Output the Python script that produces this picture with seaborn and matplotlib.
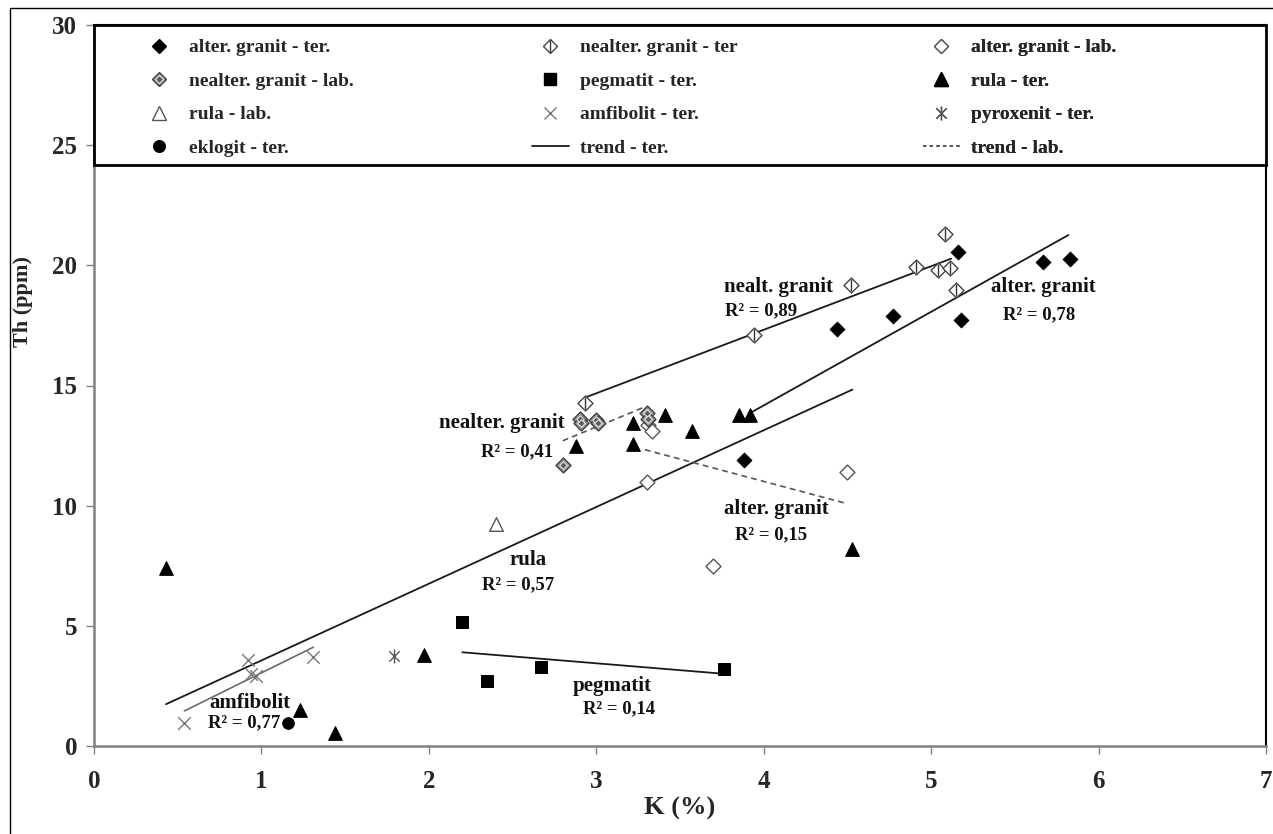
import numpy as np
import pandas as pd
import matplotlib
matplotlib.use("Agg")
import matplotlib.pyplot as plt
import seaborn as sns
from matplotlib.lines import Line2D
from matplotlib.legend_handler import HandlerTuple
from matplotlib.patches import Rectangle
from matplotlib.path import Path

# ---------------- data (K %, Th ppm) ----------------
alt_gr_ter_k = [3.88, 4.44, 4.77, 5.16, 5.18, 5.67, 5.83]
alt_gr_ter_th = [11.92, 17.36, 17.90, 20.57, 17.72, 20.15, 20.28]

nealt_gr_ter_k = [2.93, 3.94, 4.52, 4.91, 5.04, 5.08, 5.11, 5.15]
nealt_gr_ter_th = [14.29, 17.10, 19.18, 19.93, 19.80, 21.29, 19.90, 18.97]

alt_gr_lab_k = [3.31, 3.33, 3.30, 4.50, 3.70]
alt_gr_lab_th = [13.37, 13.10, 11.00, 11.42, 7.50]

nealt_gr_lab_k = [2.80, 2.90, 2.91, 3.00, 3.01, 3.30, 3.31]
nealt_gr_lab_th = [11.68, 13.60, 13.42, 13.58, 13.45, 13.86, 13.62]

pegm_ter_k = [2.20, 2.35, 2.67, 3.76]
pegm_ter_th = [5.17, 2.70, 3.30, 3.20]

rula_ter_k = [0.43, 1.23, 1.44, 1.97, 2.88, 3.22, 3.22, 3.41, 3.57, 3.85, 3.92, 4.53]
rula_ter_th = [7.40, 1.50, 0.55, 3.78, 12.47, 13.44, 12.58, 13.79, 13.10, 13.79, 13.79, 8.21]

rula_lab_k = [2.40]
rula_lab_th = [9.25]

amf_ter_k = [0.54, 0.92, 0.94, 0.97, 1.31]
amf_ter_th = [0.97, 3.58, 3.00, 2.92, 3.72]

pyrox_ter_k = [1.79]
pyrox_ter_th = [3.75]

eklog_ter_k = [1.16]
eklog_ter_th = [0.97]

# trend lines: start/end K and Th
trend_names = ["nealt. granit", "alter. granit", "rula", "amfibolit", "pegmatit",
               "nealter. granit", "alter. granit lab"]
trend_k0 = [2.93, 3.92, 0.43, 0.54, 2.20, 2.80, 3.29]
trend_k1 = [5.12, 5.82, 4.53, 1.31, 3.77, 3.29, 4.50]
trend_th0 = [14.49, 13.86, 1.74, 1.46, 3.90, 12.70, 12.33]
trend_th1 = [20.28, 21.26, 14.83, 4.11, 3.00, 14.11, 10.08]
trend_kind = ["ter", "ter", "ter", "amf", "ter", "lab", "lab"]

# annotations
ann_names = ["nealt. granit", "alter. granit", "nealter. granit", "alter. granit",
             "rula", "amfibolit", "pegmatit"]
ann_r2 = ["R² = 0,89", "R² = 0,78", "R² = 0,41", "R² = 0,15",
          "R² = 0,57", "R² = 0,77", "R² = 0,14"]
ann_name_xy = [(3.76, 19.1), (5.36, 19.08), (2.06, 13.46), (3.76, 9.88),
               (2.48, 7.75), (0.69, 1.79), (2.86, 2.5)]
ann_r2_xy = [(3.77, 18.1), (5.43, 17.96), (2.31, 12.25), (3.83, 8.8),
             (2.32, 6.71), (0.68, 0.96), (2.92, 1.54)]

x_ticks = [0, 1, 2, 3, 4, 5, 6, 7]
y_ticks = [0, 5, 10, 15, 20, 25, 30]

# ---------------- style ----------------
sns.set_theme(style="white")
plt.rcParams["font.family"] = ["Liberation Serif", "DejaVu Serif"]
plt.rcParams["font.weight"] = "bold"

W, H = 1273, 834
fig = plt.figure(figsize=(W / 100, H / 100), dpi=100)
fig.patch.set_facecolor("white")
ax = fig.add_axes([94 / W, 1 - 746 / H, (1266 - 94) / W, (746 - 25) / H])

# outer frame of the figure
fig.patches.append(Rectangle((10 / W, -0.01), 1.05, 1 - 8 / H + 0.01,
                             transform=fig.transFigure, fill=False,
                             edgecolor="black", linewidth=1.0, zorder=0))

MS_D = 7.6
# x with a vertical stroke (pyroxenit marker)
PYR = Path([(0, -1), (0, 1), (-0.75, -0.75), (0.75, 0.75), (-0.75, 0.75), (0.75, -0.75)],
           [Path.MOVETO, Path.LINETO, Path.MOVETO, Path.LINETO, Path.MOVETO, Path.LINETO])

def scat(k, th, **kw):
    df = pd.DataFrame({"K": k, "Th": th})
    sns.scatterplot(data=df, x="K", y="Th", ax=ax, legend=False, **kw)

# trend lines
for k0, k1, t0, t1, kind in zip(trend_k0, trend_k1, trend_th0, trend_th1, trend_kind):
    if kind == "ter":
        ax.plot([k0, k1], [t0, t1], color="#1a1a1a", lw=1.3, zorder=2)
    elif kind == "amf":
        ax.plot([k0, k1], [t0, t1], color="#6a6a6a", lw=1.2, zorder=2)
    else:
        ax.plot([k0, k1], [t0, t1], color="#555555", lw=1.2, ls=(0, (3.5, 2.5)), zorder=2)

# scatter groups
scat(alt_gr_ter_k, alt_gr_ter_th, marker="D", s=MS_D**2, color="black", edgecolor="black", zorder=4)
scat(nealt_gr_ter_k, nealt_gr_ter_th, marker="D", s=MS_D**2, color="white", edgecolor="#444444", linewidth=1.0, zorder=4)
ax.scatter(nealt_gr_ter_k, nealt_gr_ter_th, marker="|", s=8**2, color="#333333", linewidths=1.0, zorder=5)
scat(alt_gr_lab_k, alt_gr_lab_th, marker="D", s=MS_D**2, color="white", edgecolor="#555555", linewidth=1.0, zorder=4)
scat(nealt_gr_lab_k, nealt_gr_lab_th, marker="D", s=MS_D**2, color="#9a9a9a", edgecolor="#404040", linewidth=1.0, zorder=4)
scat(nealt_gr_lab_k, nealt_gr_lab_th, marker="D", s=3.8**2, color="#5a5a5a", edgecolor="#e0e0e0", linewidth=0.8, zorder=5)
scat(pegm_ter_k, pegm_ter_th, marker="s", s=9**2, color="black", edgecolor="black", zorder=4)
scat(rula_ter_k, rula_ter_th, marker="^", s=9.8**2, color="black", edgecolor="black", zorder=4)
scat(rula_lab_k, rula_lab_th, marker="^", s=9.8**2, color="white", edgecolor="#555555", linewidth=1.0, zorder=4)
ax.scatter(amf_ter_k, amf_ter_th, marker="x", s=9**2, color="#777777", linewidths=1.0, zorder=4)
ax.scatter(pyrox_ter_k, pyrox_ter_th, marker=PYR, s=10**2, color="#555555", linewidths=1.0, zorder=4)
scat(eklog_ter_k, eklog_ter_th, marker="o", s=8.4**2, color="black", edgecolor="black", zorder=4)

# annotations
for name, r2, (nx, ny), (rx, ry) in zip(ann_names, ann_r2, ann_name_xy, ann_r2_xy):
    ax.text(nx, ny, name, fontsize=15, fontweight="bold", ha="left", va="center",
            color="#111111", zorder=6)
    ax.text(rx, ry, r2, fontsize=13.5, fontweight="bold", ha="left", va="center",
            color="#111111", zorder=6)

# axes
ax.set_xlim(0, 7)
ax.set_ylim(0, 30)
ax.set_xticks(x_ticks)
ax.set_yticks(y_ticks)
ax.set_xticklabels([str(v) for v in x_ticks], fontsize=18, fontweight="bold")
ax.set_yticklabels([str(v) for v in y_ticks], fontsize=18, fontweight="bold")
ax.tick_params(axis="both", direction="out", length=6, width=1.0, color="#808080",
               bottom=True, left=True)
ax.tick_params(axis="x", pad=11)
ax.tick_params(axis="y", pad=6)
for side in ["left", "bottom"]:
    ax.spines[side].set_color("#808080")
    ax.spines[side].set_linewidth(1.8)
for side in ["top", "right"]:
    ax.spines[side].set_color("black")
    ax.spines[side].set_linewidth(1.5)
ax.grid(False)

ax.set_xlabel("K (%)", fontsize=19, fontweight="bold")
ax.set_ylabel("Th (ppm)", fontsize=16, fontweight="bold")
ax.xaxis.set_label_coords(0.5, -0.07)
ax.yaxis.set_label_coords(-0.052, 0.616)

# legend
def mk(marker, ms, fc, ec, mew=1.0):
    return Line2D([], [], ls="none", marker=marker, markersize=ms,
                  markerfacecolor=fc, markeredgecolor=ec, markeredgewidth=mew)

h_alt_ter = mk("D", MS_D, "black", "black")
h_nealt_ter = (mk("D", MS_D, "white", "#444444"), mk("|", 8, "#333333", "#333333"))
h_alt_lab = mk("D", MS_D, "white", "#555555")
h_nealt_lab = (mk("D", MS_D, "#9a9a9a", "#404040"), mk("D", 3.8, "#5a5a5a", "#e0e0e0", 0.8))
h_pegm = mk("s", 9, "black", "black")
h_rula_ter = mk("^", 9.8, "black", "black")
h_rula_lab = mk("^", 9.8, "white", "#555555")
h_amf = mk("x", 9, "#777777", "#777777")
h_pyr = mk(PYR, 10, "#555555", "#555555")
h_ekl = mk("o", 8.4, "black", "black")
h_tter = Line2D([], [], color="#1a1a1a", lw=1.3)
h_tlab = Line2D([], [], color="#555555", lw=1.2, ls=(0, (2, 2)))

columns = [
    ([h_alt_ter, h_nealt_lab, h_rula_lab, h_ekl],
     ["alter. granit - ter.", "nealter. granit - lab.", "rula - lab.", "eklogit - ter."], 0.0401),
    ([h_nealt_ter, h_pegm, h_amf, h_tter],
     ["nealter. granit - ter", "pegmatit - ter.", "amfibolit - ter.", "trend - ter."], 0.3737),
    ([h_alt_lab, h_rula_ter, h_pyr, h_tlab],
     ["alter. granit - lab.", "rula - ter.", "pyroxenit - ter.", "trend - lab."], 0.7073),
]

leg_bottom = 24.17 / 30
ax.add_patch(Rectangle((0, leg_bottom), 1, 1 - leg_bottom, transform=ax.transAxes,
                       facecolor="white", edgecolor="black", linewidth=2.0,
                       zorder=9, clip_on=False))
for hs, ls_, xa in columns:
    leg = ax.legend(hs, ls_, loc="upper left", bbox_to_anchor=(xa, 0.981),
                    borderaxespad=0, borderpad=0, frameon=False,
                    prop={"family": "Liberation Serif", "weight": "bold", "size": 14},
                    handlelength=1.9, handletextpad=0.55, labelspacing=0.82,
                    handler_map={tuple: HandlerTuple(ndivide=1, pad=0)})
    leg.set_zorder(10)
    ax.add_artist(leg)

fig.savefig("out.png", dpi=100, facecolor="white")
